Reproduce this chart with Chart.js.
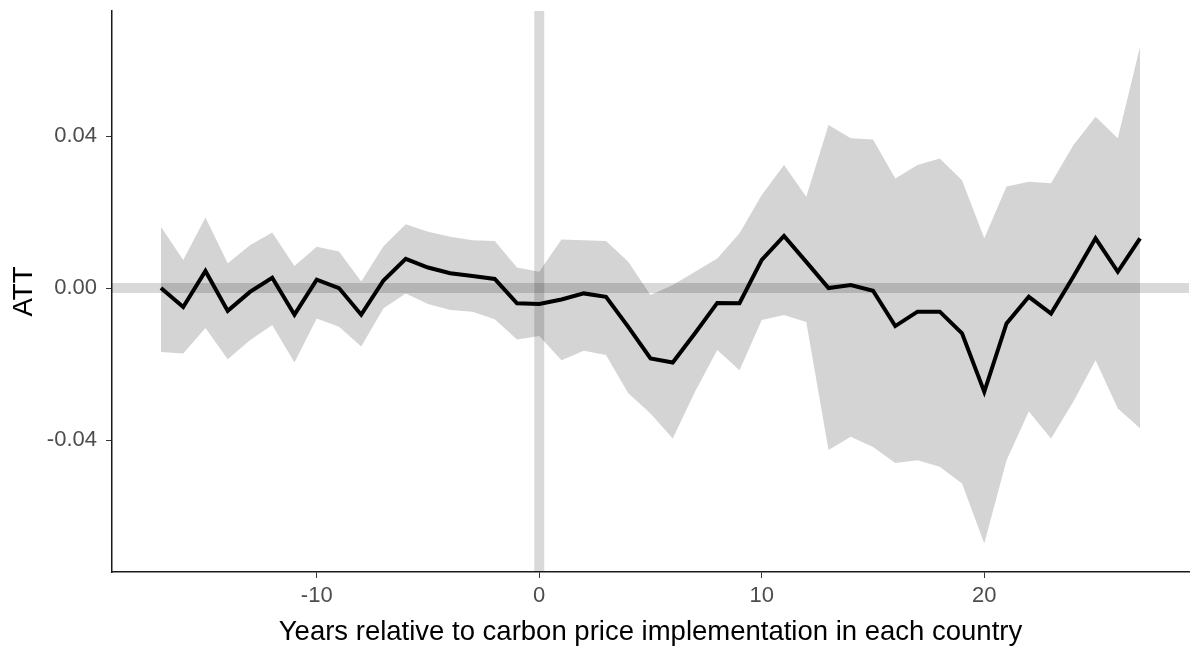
<!DOCTYPE html>
<html lang="en">
<head>
    <meta charset="UTF-8">
    <title>ATT by event year</title>
    <style>
        body { margin: 0; background: #ffffff; }
        .chart-box { width: 1192px; height: 651px; position: relative; }
    </style>
    <script src="https://cdn.jsdelivr.net/npm/chart.js"></script>
</head>
<body>
    <div class="chart-box">
        <canvas id="att-chart"></canvas>
    </div>
    <script>
        // event time, relative to carbon price start
        const years = [-17, -16, -15, -14, -13, -12, -11, -10, -9, -8, -7, -6, -5, -4, -3, -2, -1,
            0, 1, 2, 3, 4, 5, 6, 7, 8, 9, 10, 11, 12, 13, 14, 15, 16, 17, 18, 19, 20, 21, 22, 23, 24, 25, 26, 27];

        // point estimates
        const att = [0.0000, -0.0050, 0.0045, -0.0060, -0.0010, 0.0027, -0.0070, 0.0022, 0.0000, -0.0070,
            0.0020, 0.0077, 0.0054, 0.0039, 0.0032, 0.0024, -0.0040,
            -0.0042, -0.0030, -0.0014, -0.0023, -0.0102, -0.0185, -0.0196, -0.0119, -0.0039, -0.0040,
            0.0074, 0.0137, 0.0069, 0.0000, 0.0008, -0.0007, -0.0100, -0.0062, -0.0062, -0.0119,
            -0.0273, -0.0093, -0.0023, -0.0067, 0.0030, 0.0131, 0.0043, 0.0131];

        // confidence band
        const upper = [0.0161, 0.0074, 0.0186, 0.0065, 0.0113, 0.0146, 0.0058, 0.0109, 0.0096, 0.0017,
            0.0110, 0.0168, 0.0148, 0.0135, 0.0126, 0.0124, 0.0054,
            0.0043, 0.0128, 0.0126, 0.0124, 0.0069, -0.0018, 0.0008, 0.0043, 0.0078, 0.0144,
            0.0245, 0.0324, 0.0240, 0.0429, 0.0394, 0.0391, 0.0288, 0.0324, 0.0341, 0.0284,
            0.0131, 0.0267, 0.0280, 0.0276, 0.0376, 0.0451, 0.0394, 0.0635];
        const lower = [-0.0168, -0.0172, -0.0105, -0.0187, -0.0137, -0.0097, -0.0196, -0.0080, -0.0102, -0.0154,
            -0.0053, -0.0014, -0.0042, -0.0058, -0.0062, -0.0082, -0.0135,
            -0.0126, -0.0190, -0.0165, -0.0176, -0.0277, -0.0330, -0.0396, -0.0273, -0.0163, -0.0216,
            -0.0084, -0.0071, -0.0089, -0.0426, -0.0391, -0.0418, -0.0460, -0.0453, -0.0470, -0.0514,
            -0.0672, -0.0453, -0.0325, -0.0396, -0.0299, -0.0190, -0.0317, -0.0369];

        const xTicks = [-10, 0, 10, 20];
        const yTicks = [-0.04, 0.00, 0.04];
        const xRange = [-19.2, 29.2];
        const yRange = [-0.0747, 0.0729];

        const pts = vals => years.map((y, i) => ({ x: y, y: vals[i] }));

        const font = 'Liberation Sans, Arial, sans-serif';
        const refColor = 'rgba(0,0,0,0.15)';

        new Chart(document.getElementById('att-chart'), {
            type: 'line',
            data: {
                datasets: [{
                    label: 'ATT',
                    data: pts(att),
                    borderColor: '#000000',
                    borderWidth: 4,
                    pointRadius: 0,
                    fill: false,
                    order: 0
                }, {
                    label: 'zero',
                    data: [{ x: xRange[0], y: 0 }, { x: xRange[1], y: 0 }],
                    borderColor: refColor,
                    borderWidth: 10,
                    pointRadius: 0,
                    fill: false,
                    order: 1
                }, {
                    label: 'start',
                    data: [{ x: 0, y: yRange[0] }, { x: 0, y: yRange[1] }],
                    borderColor: refColor,
                    borderWidth: 10,
                    pointRadius: 0,
                    fill: false,
                    order: 1
                }, {
                    label: 'upper',
                    data: pts(upper),
                    borderWidth: 0,
                    borderColor: 'rgba(0,0,0,0)',
                    backgroundColor: '#d4d4d4',
                    pointRadius: 0,
                    fill: '+1',
                    order: 2
                }, {
                    label: 'lower',
                    data: pts(lower),
                    borderWidth: 0,
                    borderColor: 'rgba(0,0,0,0)',
                    pointRadius: 0,
                    fill: false,
                    order: 3
                }]
            },
            options: {
                responsive: true,
                maintainAspectRatio: false,
                animation: false,
                layout: { padding: { top: 11, right: 3, left: 0, bottom: 0 } },
                plugins: {
                    legend: { display: false },
                    tooltip: { enabled: false }
                },
                scales: {
                    x: {
                        type: 'linear',
                        min: xRange[0],
                        max: xRange[1],
                        afterBuildTicks: s => { s.ticks = xTicks.map(v => ({ value: v })); },
                        afterFit: s => {
                            s.height = 79;
                            s.paddingLeft = 0;
                            s.paddingRight = 0;
                        },
                        border: { display: true, color: '#1a1a1a', width: 1.5 },
                        grid: { drawOnChartArea: false, drawTicks: true, tickLength: 6, color: '#333333' },
                        ticks: {
                            color: '#4d4d4d',
                            padding: 5,
                            maxRotation: 0,
                            font: { family: font, size: 22 },
                            callback: v => String(v)
                        },
                        title: {
                            display: true,
                            text: 'Years relative to carbon price implementation in each country',
                            color: '#000000',
                            padding: 2,
                            font: { family: font, size: 27.5 }
                        }
                    },
                    y: {
                        type: 'linear',
                        min: yRange[0],
                        max: yRange[1],
                        afterBuildTicks: s => { s.ticks = yTicks.map(v => ({ value: v })); },
                        afterFit: s => {
                            s.width = 112;
                            s.paddingTop = 0;
                            s.paddingBottom = 0;
                        },
                        border: { display: true, color: '#1a1a1a', width: 1.5 },
                        grid: { drawOnChartArea: false, drawTicks: true, tickLength: 6, color: '#333333' },
                        ticks: {
                            color: '#4d4d4d',
                            padding: 9,
                            font: { family: font, size: 22 },
                            callback: v => v.toFixed(2)
                        },
                        title: {
                            display: true,
                            text: 'ATT',
                            color: '#000000',
                            padding: 8,
                            font: { family: font, size: 27.5 }
                        }
                    }
                }
            }
        });
    </script>
</body>
</html>
